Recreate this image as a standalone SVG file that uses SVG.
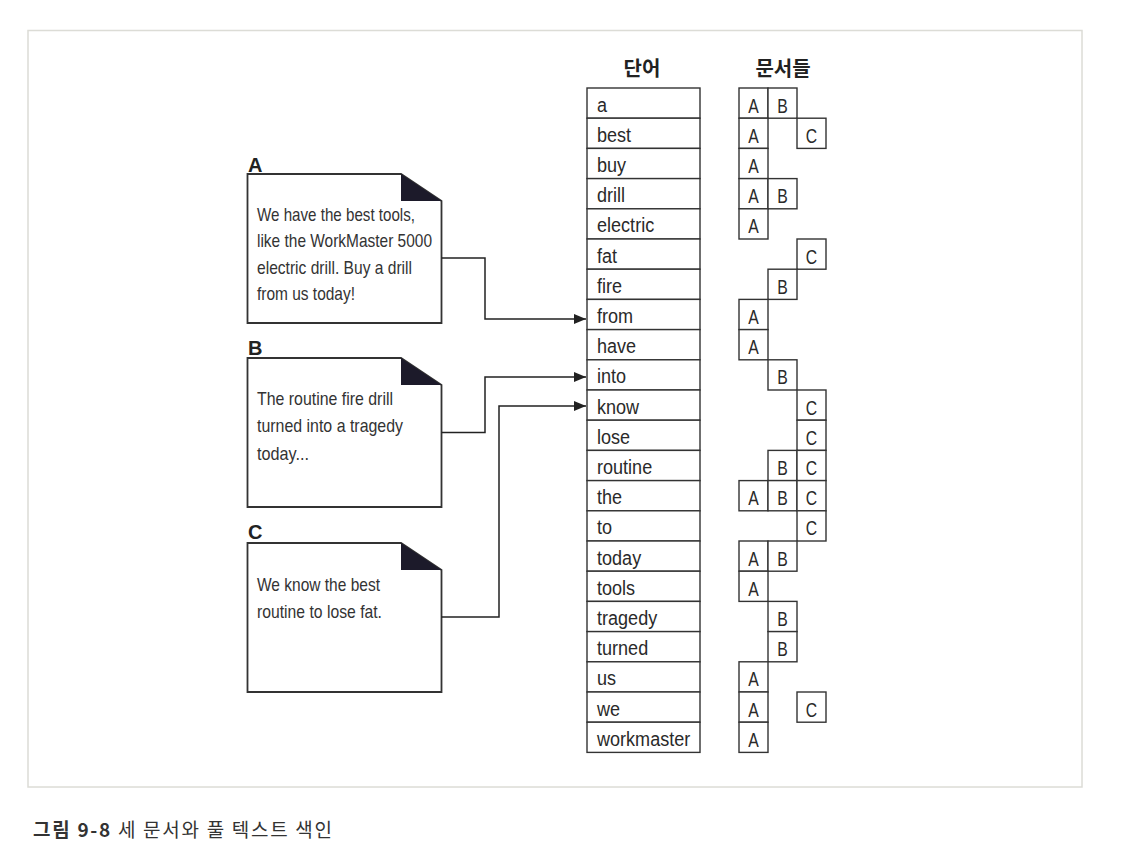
<svg xmlns="http://www.w3.org/2000/svg" width="1134" height="858" viewBox="0 0 1134 858">
<defs>
<marker id="arr" viewBox="0 0 12 10" refX="12" refY="5" markerWidth="12" markerHeight="10" markerUnits="userSpaceOnUse" orient="auto">
<path d="M0,0 L12,5 L0,10 Z" fill="#222"/>
</marker>
<style>
.frame{fill:#fff;stroke:#dcdcd6;stroke-width:1.5}
.doc{fill:#fff;stroke:#333;stroke-width:1.8}
.fold{fill:#1c1a2a;stroke:none}
.lbl{font-family:"Liberation Sans",Arial,sans-serif;font-weight:bold;font-size:20px;fill:#222}
.dt{font-family:"Liberation Sans",Arial,sans-serif;font-size:19px;fill:#333}
.cell{fill:#fff;stroke:#333;stroke-width:1.4}
.wt{font-family:"Liberation Sans",Arial,sans-serif;font-size:21px;fill:#2a2a2a}
.lt{font-family:"Liberation Sans",Arial,sans-serif;font-size:21px;fill:#2a2a2a;text-anchor:middle}
.hd{font-family:"Noto Sans CJK KR",sans-serif;font-weight:bold;font-size:20px;fill:#222;text-anchor:middle}
.conn{fill:none;stroke:#222;stroke-width:1.5}
.cap{font-family:"Noto Sans CJK KR",sans-serif;font-size:19px;fill:#333}
</style>
</defs>
<rect width="1134" height="858" fill="#fff"/>
<rect class="frame" x="28" y="30.5" width="1054" height="756.5"/>

<text class="hd" x="642" y="76">단어</text>
<text class="hd" x="783" y="76">문서들</text>

<g id="docA">
<text class="lbl" x="248" y="172">A</text>
<path class="doc" d="M247.5,174 H401 L441.5,201 V323 H247.5 Z"/>
<path class="fold" d="M401,174 V201 H441.5 Z"/>
<text class="dt" x="257" y="221" textLength="158" lengthAdjust="spacingAndGlyphs">We have the best tools,</text>
<text class="dt" x="257" y="247" textLength="175" lengthAdjust="spacingAndGlyphs">like the WorkMaster 5000</text>
<text class="dt" x="257" y="274" textLength="155" lengthAdjust="spacingAndGlyphs">electric drill. Buy a drill</text>
<text class="dt" x="257" y="300" textLength="98" lengthAdjust="spacingAndGlyphs">from us today!</text>
</g>

<g id="docB">
<text class="lbl" x="248" y="355">B</text>
<path class="doc" d="M247.5,358 H401 L441.5,385 V507 H247.5 Z"/>
<path class="fold" d="M401,358 V385 H441.5 Z"/>
<text class="dt" x="257" y="405" textLength="136" lengthAdjust="spacingAndGlyphs">The routine fire drill</text>
<text class="dt" x="257" y="432" textLength="146" lengthAdjust="spacingAndGlyphs">turned into a tragedy</text>
<text class="dt" x="257" y="460" textLength="52" lengthAdjust="spacingAndGlyphs">today...</text>
</g>

<g id="docC">
<text class="lbl" x="248" y="539">C</text>
<path class="doc" d="M247.5,543 H401 L441.5,570 V692 H247.5 Z"/>
<path class="fold" d="M401,543 V570 H441.5 Z"/>
<text class="dt" x="257" y="591" textLength="123" lengthAdjust="spacingAndGlyphs">We know the best</text>
<text class="dt" x="257" y="618" textLength="125" lengthAdjust="spacingAndGlyphs">routine to lose fat.</text>
</g>

<g id="connectors">
<path class="conn" d="M441.5,258 H485 V319 H586" marker-end="url(#arr)"/>
<path class="conn" d="M441.5,432.5 H485 V377 H586" marker-end="url(#arr)"/>
<path class="conn" d="M441.5,617 H499 V406 H586" marker-end="url(#arr)"/>
</g>

<g id="words">
<g id="w-a"><rect class="cell" x="587" y="88" width="113" height="30.2"/><text class="wt" transform="translate(597,111.5) scale(0.86,1)">a</text></g>
<g id="w-best"><rect class="cell" x="587" y="118.2" width="113" height="30.2"/><text class="wt" transform="translate(597,141.7) scale(0.86,1)">best</text></g>
<g id="w-buy"><rect class="cell" x="587" y="148.4" width="113" height="30.2"/><text class="wt" transform="translate(597,171.9) scale(0.86,1)">buy</text></g>
<g id="w-drill"><rect class="cell" x="587" y="178.6" width="113" height="30.2"/><text class="wt" transform="translate(597,202.1) scale(0.86,1)">drill</text></g>
<g id="w-electric"><rect class="cell" x="587" y="208.8" width="113" height="30.2"/><text class="wt" transform="translate(597,232.3) scale(0.86,1)">electric</text></g>
<g id="w-fat"><rect class="cell" x="587" y="239" width="113" height="30.2"/><text class="wt" transform="translate(597,262.5) scale(0.86,1)">fat</text></g>
<g id="w-fire"><rect class="cell" x="587" y="269.2" width="113" height="30.2"/><text class="wt" transform="translate(597,292.7) scale(0.86,1)">fire</text></g>
<g id="w-from"><rect class="cell" x="587" y="299.4" width="113" height="30.2"/><text class="wt" transform="translate(597,322.9) scale(0.86,1)">from</text></g>
<g id="w-have"><rect class="cell" x="587" y="329.6" width="113" height="30.2"/><text class="wt" transform="translate(597,353.1) scale(0.86,1)">have</text></g>
<g id="w-into"><rect class="cell" x="587" y="359.8" width="113" height="30.2"/><text class="wt" transform="translate(597,383.3) scale(0.86,1)">into</text></g>
<g id="w-know"><rect class="cell" x="587" y="390" width="113" height="30.2"/><text class="wt" transform="translate(597,413.5) scale(0.86,1)">know</text></g>
<g id="w-lose"><rect class="cell" x="587" y="420.2" width="113" height="30.2"/><text class="wt" transform="translate(597,443.7) scale(0.86,1)">lose</text></g>
<g id="w-routine"><rect class="cell" x="587" y="450.4" width="113" height="30.2"/><text class="wt" transform="translate(597,473.9) scale(0.86,1)">routine</text></g>
<g id="w-the"><rect class="cell" x="587" y="480.6" width="113" height="30.2"/><text class="wt" transform="translate(597,504.1) scale(0.86,1)">the</text></g>
<g id="w-to"><rect class="cell" x="587" y="510.8" width="113" height="30.2"/><text class="wt" transform="translate(597,534.3) scale(0.86,1)">to</text></g>
<g id="w-today"><rect class="cell" x="587" y="541" width="113" height="30.2"/><text class="wt" transform="translate(597,564.5) scale(0.86,1)">today</text></g>
<g id="w-tools"><rect class="cell" x="587" y="571.2" width="113" height="30.2"/><text class="wt" transform="translate(597,594.7) scale(0.86,1)">tools</text></g>
<g id="w-tragedy"><rect class="cell" x="587" y="601.4" width="113" height="30.2"/><text class="wt" transform="translate(597,624.9) scale(0.86,1)">tragedy</text></g>
<g id="w-turned"><rect class="cell" x="587" y="631.6" width="113" height="30.2"/><text class="wt" transform="translate(597,655.1) scale(0.86,1)">turned</text></g>
<g id="w-us"><rect class="cell" x="587" y="661.8" width="113" height="30.2"/><text class="wt" transform="translate(597,685.3) scale(0.86,1)">us</text></g>
<g id="w-we"><rect class="cell" x="587" y="692" width="113" height="30.2"/><text class="wt" transform="translate(597,715.5) scale(0.86,1)">we</text></g>
<g id="w-workmaster"><rect class="cell" x="587" y="722.2" width="113" height="30.2"/><text class="wt" transform="translate(597,745.7) scale(0.86,1)">workmaster</text></g>
</g>

<g id="postings">
<g id="p-a"><rect class="cell" x="739" y="88" width="29" height="30.2"/><text class="lt" transform="translate(753.5,112.5) scale(0.75,1)">A</text><rect class="cell" x="768" y="88" width="29" height="30.2"/><text class="lt" transform="translate(782.5,112.5) scale(0.75,1)">B</text></g>
<g id="p-best"><rect class="cell" x="739" y="118.2" width="29" height="30.2"/><text class="lt" transform="translate(753.5,142.7) scale(0.75,1)">A</text><rect class="cell" x="797" y="118.2" width="29" height="30.2"/><text class="lt" transform="translate(811.5,142.7) scale(0.75,1)">C</text></g>
<g id="p-buy"><rect class="cell" x="739" y="148.4" width="29" height="30.2"/><text class="lt" transform="translate(753.5,172.9) scale(0.75,1)">A</text></g>
<g id="p-drill"><rect class="cell" x="739" y="178.6" width="29" height="30.2"/><text class="lt" transform="translate(753.5,203.1) scale(0.75,1)">A</text><rect class="cell" x="768" y="178.6" width="29" height="30.2"/><text class="lt" transform="translate(782.5,203.1) scale(0.75,1)">B</text></g>
<g id="p-electric"><rect class="cell" x="739" y="208.8" width="29" height="30.2"/><text class="lt" transform="translate(753.5,233.3) scale(0.75,1)">A</text></g>
<g id="p-fat"><rect class="cell" x="797" y="239" width="29" height="30.2"/><text class="lt" transform="translate(811.5,263.5) scale(0.75,1)">C</text></g>
<g id="p-fire"><rect class="cell" x="768" y="269.2" width="29" height="30.2"/><text class="lt" transform="translate(782.5,293.7) scale(0.75,1)">B</text></g>
<g id="p-from"><rect class="cell" x="739" y="299.4" width="29" height="30.2"/><text class="lt" transform="translate(753.5,323.9) scale(0.75,1)">A</text></g>
<g id="p-have"><rect class="cell" x="739" y="329.6" width="29" height="30.2"/><text class="lt" transform="translate(753.5,354.1) scale(0.75,1)">A</text></g>
<g id="p-into"><rect class="cell" x="768" y="359.8" width="29" height="30.2"/><text class="lt" transform="translate(782.5,384.3) scale(0.75,1)">B</text></g>
<g id="p-know"><rect class="cell" x="797" y="390" width="29" height="30.2"/><text class="lt" transform="translate(811.5,414.5) scale(0.75,1)">C</text></g>
<g id="p-lose"><rect class="cell" x="797" y="420.2" width="29" height="30.2"/><text class="lt" transform="translate(811.5,444.7) scale(0.75,1)">C</text></g>
<g id="p-routine"><rect class="cell" x="768" y="450.4" width="29" height="30.2"/><text class="lt" transform="translate(782.5,474.9) scale(0.75,1)">B</text><rect class="cell" x="797" y="450.4" width="29" height="30.2"/><text class="lt" transform="translate(811.5,474.9) scale(0.75,1)">C</text></g>
<g id="p-the"><rect class="cell" x="739" y="480.6" width="29" height="30.2"/><text class="lt" transform="translate(753.5,505.1) scale(0.75,1)">A</text><rect class="cell" x="768" y="480.6" width="29" height="30.2"/><text class="lt" transform="translate(782.5,505.1) scale(0.75,1)">B</text><rect class="cell" x="797" y="480.6" width="29" height="30.2"/><text class="lt" transform="translate(811.5,505.1) scale(0.75,1)">C</text></g>
<g id="p-to"><rect class="cell" x="797" y="510.8" width="29" height="30.2"/><text class="lt" transform="translate(811.5,535.3) scale(0.75,1)">C</text></g>
<g id="p-today"><rect class="cell" x="739" y="541" width="29" height="30.2"/><text class="lt" transform="translate(753.5,565.5) scale(0.75,1)">A</text><rect class="cell" x="768" y="541" width="29" height="30.2"/><text class="lt" transform="translate(782.5,565.5) scale(0.75,1)">B</text></g>
<g id="p-tools"><rect class="cell" x="739" y="571.2" width="29" height="30.2"/><text class="lt" transform="translate(753.5,595.7) scale(0.75,1)">A</text></g>
<g id="p-tragedy"><rect class="cell" x="768" y="601.4" width="29" height="30.2"/><text class="lt" transform="translate(782.5,625.9) scale(0.75,1)">B</text></g>
<g id="p-turned"><rect class="cell" x="768" y="631.6" width="29" height="30.2"/><text class="lt" transform="translate(782.5,656.1) scale(0.75,1)">B</text></g>
<g id="p-us"><rect class="cell" x="739" y="661.8" width="29" height="30.2"/><text class="lt" transform="translate(753.5,686.3) scale(0.75,1)">A</text></g>
<g id="p-we"><rect class="cell" x="739" y="692" width="29" height="30.2"/><text class="lt" transform="translate(753.5,716.5) scale(0.75,1)">A</text><rect class="cell" x="797" y="692" width="29" height="30.2"/><text class="lt" transform="translate(811.5,716.5) scale(0.75,1)">C</text></g>
<g id="p-workmaster"><rect class="cell" x="739" y="722.2" width="29" height="30.2"/><text class="lt" transform="translate(753.5,746.7) scale(0.75,1)">A</text></g>
</g>

<text class="cap" x="33" y="837" textLength="299" lengthAdjust="spacing"><tspan font-weight="bold">그림 9-8</tspan> 세 문서와 풀 텍스트 색인</text>
</svg>
